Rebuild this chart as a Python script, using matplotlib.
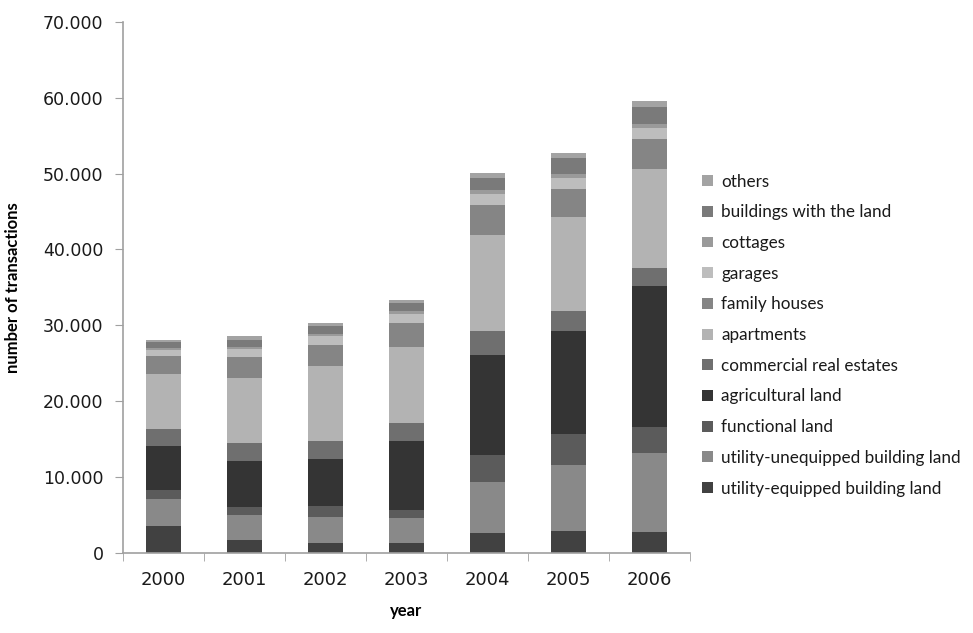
import numpy as np
import matplotlib
matplotlib.use("Agg")
import matplotlib.pyplot as plt
from matplotlib.ticker import FuncFormatter, FixedLocator

years = ["2000", "2001", "2002", "2003", "2004", "2005", "2006"]

categories = ["utility-equipped building land", "utility-unequipped building land",
              "functional land", "agricultural land", "commercial real estates",
              "apartments", "family houses", "garages", "cottages",
              "buildings with the land", "others"]

# values, bottom segment first
equipped = [3540, 1680, 1320, 1240, 2640, 2820, 2770]
unequipped = [3490, 3300, 3440, 3300, 6660, 8810, 10360]
functional = [1230, 1100, 1450, 1100, 3520, 3960, 3510]
agricultural = [5850, 6030, 6170, 9120, 13310, 13660, 18500]
commercial = [2170, 2340, 2380, 2410, 3070, 2630, 2430]
apartments = [7270, 8590, 9900, 9910, 12690, 12440, 12980]
family_houses = [2330, 2720, 2780, 3220, 3920, 3640, 4060]
garages = [880, 1150, 1150, 1230, 1540, 1450, 1450]
cottages = [225, 170, 260, 310, 440, 530, 440]
buildings = [740, 1020, 1010, 1100, 1680, 2110, 2290]
others = [355, 530, 440, 440, 660, 620, 790]

series = [equipped, unequipped, functional, agricultural, commercial, apartments,
          family_houses, garages, cottages, buildings, others]
colors = ["#414141", "#898989", "#5b5b5b", "#343434", "#6f6f6f", "#b3b3b3",
          "#858585", "#bdbdbd", "#9a9a9a", "#7a7a7a", "#a3a3a3"]

fig = plt.figure(figsize=(9.73, 6.33), dpi=100)
ax = fig.add_axes([0.1264, 0.1269, 0.709 - 0.1264, 0.9652 - 0.1269])

x = np.arange(len(years))
bottom = np.zeros(len(years))
handles = []
for vals, col, name in zip(series, colors, categories):
    b = ax.bar(x, vals, width=0.43, bottom=bottom, color=col, label=name,
               edgecolor="none")
    handles.append(b)
    bottom += np.array(vals)

ax.set_xlim(-0.5, len(years) - 0.5)
ax.set_ylim(0, 70000)
ax.set_yticks(np.arange(0, 70001, 10000))
ax.yaxis.set_major_formatter(FuncFormatter(lambda v, p: "{:,.0f}".format(v).replace(",", ".")))

ax.set_xticks(x)
ax.set_xticklabels(years)
ax.xaxis.set_minor_locator(FixedLocator(np.arange(-0.5, len(years), 1.0)))
ax.tick_params(axis="x", which="major", length=0, pad=13, labelsize=13,
               labelcolor="#1a1a1a")
ax.tick_params(axis="x", which="minor", length=6, color="#a0a0a0", direction="out")
ax.tick_params(axis="y", length=6, color="#a0a0a0", labelsize=12.5,
               labelcolor="#1a1a1a", pad=8)

for s in ["top", "right"]:
    ax.spines[s].set_visible(False)
for s in ["left", "bottom"]:
    ax.spines[s].set_color("#a0a0a0")
    ax.spines[s].set_linewidth(1.2)

ax.set_xlabel("year", fontsize=12, fontweight="bold", family="Lato", labelpad=10)
ax.set_ylabel("number of transactions", fontsize=12, fontweight="bold",
              family="Lato", labelpad=16)

leg = ax.legend(handles[::-1], categories[::-1], loc="center left",
                bbox_to_anchor=(0.995, 0.41), frameon=False,
                prop={"family": "Lato", "size": 12.3},
                handlelength=0.6, handleheight=0.6, handletextpad=0.5,
                labelspacing=0.86)
for t in leg.get_texts():
    t.set_color("#1a1a1a")

fig.savefig("out.png", dpi=100)
